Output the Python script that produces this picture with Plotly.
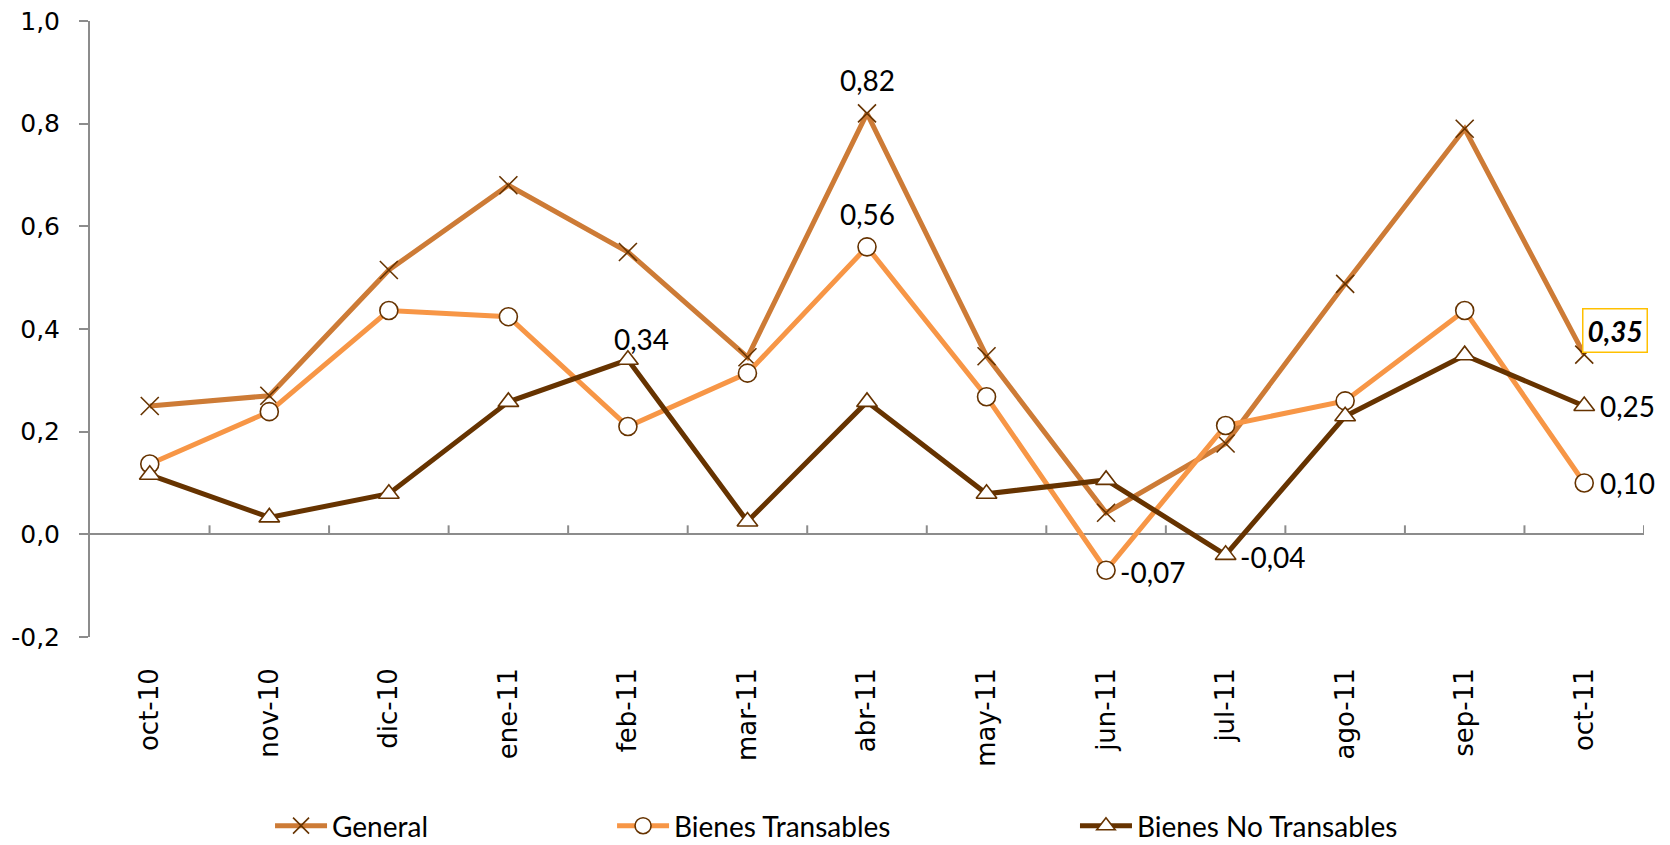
import plotly.graph_objects as go

months = ["oct-10", "nov-10", "dic-10", "ene-11", "feb-11", "mar-11", "abr-11",
          "may-11", "jun-11", "jul-11", "ago-11", "sep-11", "oct-11"]
general = [0.25, 0.27, 0.515, 0.68, 0.55, 0.345, 0.82, 0.347, 0.042, 0.177, 0.488, 0.79, 0.35]
transables = [0.137, 0.239, 0.436, 0.424, 0.21, 0.314, 0.56, 0.268, -0.07, 0.212, 0.26, 0.436, 0.10]
no_transables = [0.116, 0.033, 0.079, 0.258, 0.34, 0.025, 0.258, 0.079, 0.106, -0.04, 0.23, 0.349, 0.25]
y_ticks = [-0.2, 0.0, 0.2, 0.4, 0.6, 0.8, 1.0]
y_ticktext = ["-0,2", "0,0", "0,2", "0,4", "0,6", "0,8", "1,0"]

C_GEN = "#CD7B36"
C_TR = "#F79646"
C_NT = "#663300"
MK = "#663300"
AX = "#8C8C8C"

fig = go.Figure()
fig.add_trace(go.Scatter(
    x=months, y=general, name="General", mode="lines+markers", legend="legend",
    line=dict(color=C_GEN, width=5),
    marker=dict(symbol="x-thin-open", size=18, color=MK, line=dict(color=MK, width=1.6)),
))
fig.add_trace(go.Scatter(
    x=months, y=transables, name="Bienes Transables", mode="lines+markers", legend="legend2",
    line=dict(color=C_TR, width=5),
    marker=dict(symbol="circle", size=18, color="white", line=dict(color=MK, width=1.6)),
))
fig.add_trace(go.Scatter(
    x=months, y=no_transables, name="Bienes No Transables", mode="lines+markers", legend="legend3",
    line=dict(color=C_NT, width=5),
    marker=dict(symbol="triangle-up", size=18, color="white", line=dict(color=MK, width=1.6)),
))

def fmt(v):
    return f"{v:.2f}".replace(".", ",")

LBL_FONT = dict(family="Lato", size=28, color="black")
# (series values, index, xanchor, yanchor, xshift, yshift)
labels = [
    (general, 6, "center", "bottom", 0, 14),
    (transables, 6, "center", "bottom", 0, 14),
    (no_transables, 4, "center", "bottom", 14, 2),
    (transables, 8, "left", "middle", 12, -2),
    (no_transables, 9, "left", "middle", 12, -2),
    (no_transables, 12, "left", "middle", 14, 0),
    (transables, 12, "left", "middle", 14, 0),
]
annotations = []
for vals, i, xa, ya, xs, ys in labels:
    annotations.append(dict(x=months[i], y=vals[i], text=fmt(vals[i]), showarrow=False,
                            xanchor=xa, yanchor=ya, xshift=xs, yshift=ys, font=LBL_FONT))
annotations.append(dict(x=months[12], y=general[12], text="<b><i>" + fmt(general[12]) + "</i></b>",
                        showarrow=False, xanchor="left", yanchor="bottom", xshift=-2, yshift=2,
                        font=LBL_FONT, bordercolor="#FFC000", borderwidth=1.5, borderpad=4,
                        bgcolor="white"))

shapes = []
for i in range(len(months)):
    shapes.append(dict(type="line", xref="x", yref="y", x0=i + 0.5, x1=i + 0.5,
                       ysizemode="pixel", yanchor=0, y0=0, y1=9,
                       line=dict(color=AX, width=2)))

leg_common = dict(orientation="h", yanchor="middle", xanchor="left", yref="container",
                  xref="container", y=0.0225,
                  font=dict(family="Lato", size=28, color="black"),
                  bgcolor="rgba(0,0,0,0)", itemwidth=52, tracegroupgap=0)

fig.update_layout(
    width=1670, height=845,
    margin=dict(l=90, r=26, t=21, b=208, autoexpand=False),
    paper_bgcolor="white", plot_bgcolor="white",
    showlegend=True,
    legend=dict(x=0.1617, **leg_common),
    legend2=dict(x=0.3665, **leg_common),
    legend3=dict(x=0.6437, **leg_common),
    annotations=annotations,
    shapes=shapes,
    xaxis=dict(type="category", range=[-0.5, 12.5], tickangle=-90, showline=False,
               showgrid=False, ticks="", ticklabelstandoff=25, automargin=False,
               tickfont=dict(family="DejaVu Sans", size=26, color="black")),
    yaxis=dict(range=[-0.2, 1.0], tickvals=y_ticks, ticktext=y_ticktext, showgrid=False,
               showline=True, linecolor=AX, linewidth=2, ticks="outside", tickcolor=AX,
               ticklen=9, tickwidth=2, zeroline=True, zerolinecolor=AX, zerolinewidth=2,
               ticklabelstandoff=14, automargin=False,
               tickfont=dict(family="DejaVu Sans", size=25, color="black")),
)

fig.write_html("out.html", config={"displayModeBar": False},
               post_script="document.body.style.margin='0';document.body.style.overflow='hidden';")
